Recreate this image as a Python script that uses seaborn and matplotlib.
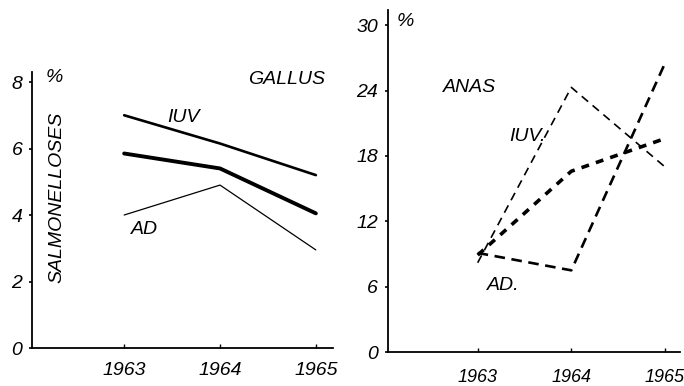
import numpy as np
import pandas as pd
import matplotlib
matplotlib.use('Agg')
import matplotlib.pyplot as plt
import seaborn as sns

# data
years = [1963, 1964, 1965]

gallus_iuv = [7.0, 6.15, 5.2]
gallus_all = [5.85, 5.4, 4.05]
gallus_ad = [4.0, 4.9, 2.95]

anas_iuv = [8.2, 24.3, 17.0]
anas_all = [8.9, 16.6, 19.6]
anas_ad = [9.1, 7.5, 26.5]

sns.set_style('white')
plt.rcParams['font.family'] = ['Liberation Sans', 'DejaVu Sans']
plt.rcParams['font.style'] = 'italic'
plt.rcParams['text.color'] = 'black'
_fs = 14

fig = plt.figure(figsize=(6.84, 3.86), dpi=100)
ax1 = fig.add_axes([0.047, 0.0984, 0.440, 0.715])
ax2 = fig.add_axes([0.567, 0.088, 0.427, 0.886])

df_g = pd.DataFrame({'year': years * 3,
                     'val': gallus_iuv + gallus_all + gallus_ad,
                     'grp': ['IUV'] * 3 + ['ALL'] * 3 + ['AD'] * 3})
df_a = pd.DataFrame({'year': years * 3,
                     'val': anas_iuv + anas_all + anas_ad,
                     'grp': ['IUV'] * 3 + ['ALL'] * 3 + ['AD'] * 3})

# gallus: solid lines of different weight
lw_g = {'IUV': 1.9, 'ALL': 2.8, 'AD': 0.9}
for g in ['IUV', 'ALL', 'AD']:
    sns.lineplot(data=df_g[df_g.grp == g], x='year', y='val', ax=ax1,
                 color='black', lw=lw_g[g], legend=False)

# anas: dashed lines
st_a = {'IUV': (1.2, (5, 3.5)), 'ALL': (2.6, (2.2, 2.0)), 'AD': (1.9, (4, 2.5))}
for g in ['IUV', 'ALL', 'AD']:
    lw, dash = st_a[g]
    sns.lineplot(data=df_a[df_a.grp == g], x='year', y='val', ax=ax2,
                 color='black', lw=lw, legend=False, dashes=False)
    ax2.lines[-1].set_dashes(dash)

ax1.set_xlim(1962.04, 1965.18)
ax1.set_ylim(0, 8.3)
ax1.set_yticks([0, 2, 4, 6, 8])
ax2.set_xlim(1962.04, 1965.16)
ax2.set_ylim(0, 31.4)
ax2.set_yticks([0, 6, 12, 18, 24, 30])

for ax in [ax1, ax2]:
    sns.despine(ax=ax)
    ax.set_xticks(years)
    ax.set_xlabel('')
    ax.set_ylabel('')
    for s in ['left', 'bottom']:
        ax.spines[s].set_color('black')
        ax.spines[s].set_linewidth(1.3)
    ax.tick_params(axis='y', direction='out', length=2, width=1.2, pad=5,
                   labelsize=_fs, colors='black', left=True)
    ax.tick_params(axis='x', direction='in', length=3, width=1, pad=10,
                   labelsize=_fs, colors='black', bottom=True)
    ax.patch.set_alpha(0)
ax2.tick_params(axis='x', labelsize=13, pad=12)

# annotations
fig.text(46 / 684, 1 - 78 / 386, '%', fontsize=_fs, ha='left', va='center')
fig.text(287 / 684, 1 - 80 / 386, 'GALLUS', fontsize=_fs, ha='center', va='center')
fig.text(57 / 684, 1 - 197 / 386, 'SALMONELLOSES', fontsize=_fs, rotation=90,
         ha='center', va='center')
fig.text(183 / 684, 1 - 118 / 386, 'IUV', fontsize=_fs, ha='center', va='center')
fig.text(145 / 684, 1 - 230 / 386, 'AD', fontsize=_fs, ha='center', va='center')

fig.text(405 / 684, 1 - 22 / 386, '%', fontsize=_fs, ha='center', va='center')
fig.text(470 / 684, 1 - 87 / 386, 'ANAS', fontsize=_fs, ha='center', va='center')
fig.text(527 / 684, 1 - 137 / 386, 'IUV.', fontsize=_fs, ha='center', va='center')
fig.text(503 / 684, 1 - 285 / 386, 'AD.', fontsize=_fs, ha='center', va='center')

fig.savefig('out.png', dpi=100)
